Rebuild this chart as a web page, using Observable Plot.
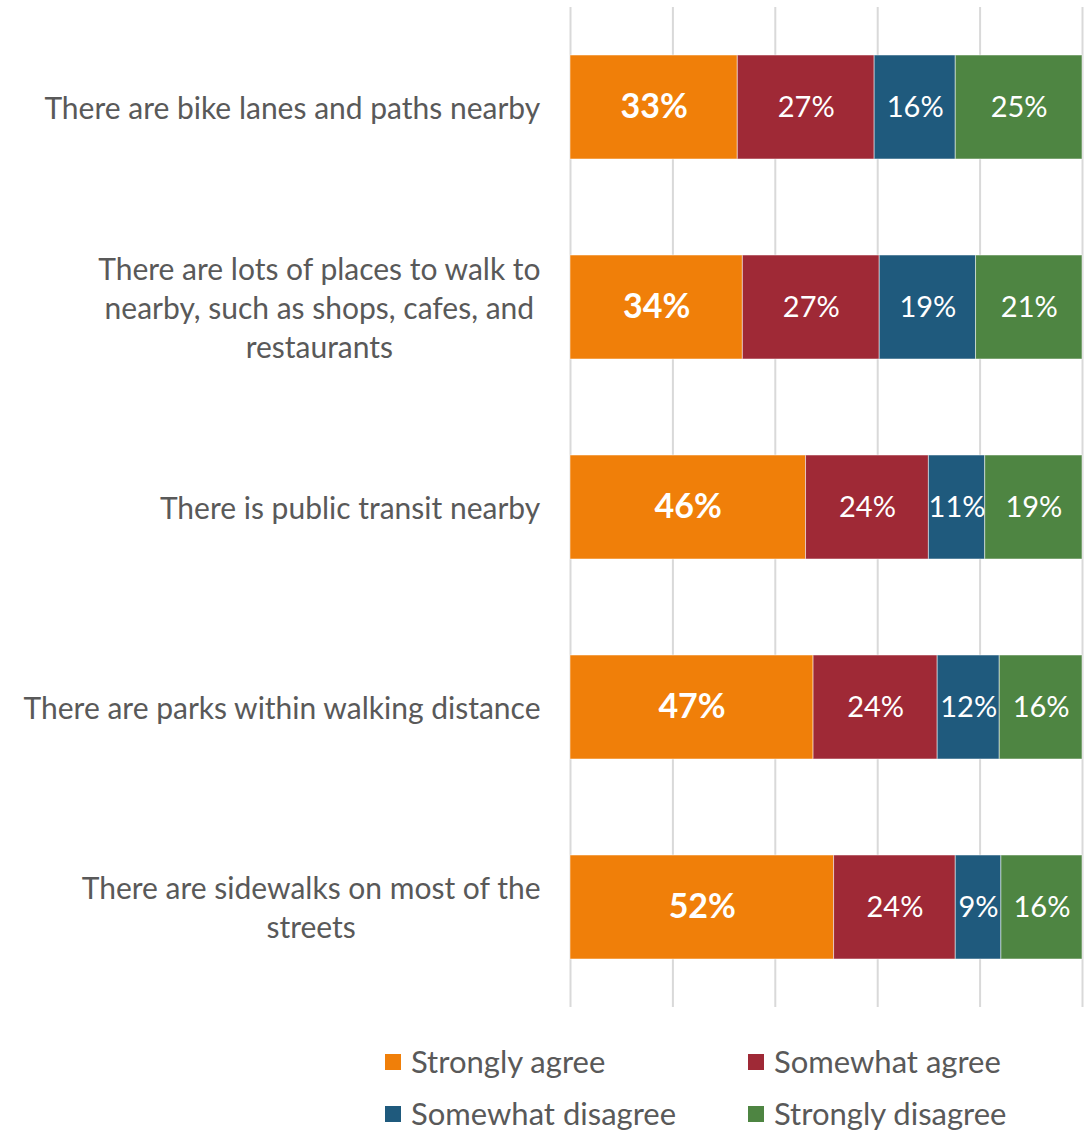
<!DOCTYPE html>
<html><head><meta charset="utf-8">
<script src="https://cdn.jsdelivr.net/npm/d3@7"></script>
<script src="https://cdn.jsdelivr.net/npm/@observablehq/plot@0.6"></script>
<style>
body{margin:0;background:#fff;font-family:Lato,"Noto Sans",sans-serif;}
#legend{position:relative;width:1090px;height:122px;}
.li{position:absolute;display:flex;align-items:center;font-size:31px;color:#595959;line-height:1;}
.sw{width:16px;height:16px;margin-right:10px;}
</style></head>
<body><div id="chart"></div><div id="legend"></div>
<script>
const categories = [
  "There are bike lanes and paths nearby",
  "There are lots of places to walk to\nnearby, such as shops, cafes, and\nrestaurants",
  "There is public transit nearby",
  "There are parks within walking distance",
  "There are sidewalks on most of the\nstreets"
];
const responses = ["Strongly agree","Somewhat agree","Somewhat disagree","Strongly disagree"];
const colors = ["#F07F09","#9F2936","#1F5A7D","#4E8542"];
const stronglyAgree    = [33,34,46,47,52];
const somewhatAgree    = [27,27,24,24,24];
const somewhatDisagree = [16,19,11,12,9];
const stronglyDisagree = [25,21,19,16,16];
const series = [stronglyAgree, somewhatAgree, somewhatDisagree, stronglyDisagree];
const ticks = [0,0.2,0.4,0.6,0.8,1];

const data = [];
categories.forEach((c,i)=>responses.forEach((r,j)=>data.push({cat:c,resp:r,value:series[j][i]})));

const stack = extra => Plot.stackX({offset:"normalize", order:responses, x:"value", y:"cat", z:"resp", ...extra});

const plot = Plot.plot({
  width:1090, height:1010,
  marginLeft:570, marginRight:8, marginTop:7, marginBottom:3,
  style:{fontFamily:"Lato, 'Noto Sans', sans-serif", background:"#fff"},
  x:{domain:[0,1], axis:null},
  y:{domain:categories, axis:null, paddingInner:0.48, paddingOuter:0.24},
  color:{domain:responses, range:colors},
  marks:[
    Plot.ruleX(ticks,{stroke:"#d9d9d9", strokeWidth:2}),
    Plot.barX(data, stack({fill:"resp", stroke:"#ffffff", strokeOpacity:0.5, strokeWidth:1})),
    Plot.text(categories,{x:0, y:d=>d, text:d=>d, textAnchor:"middle", fill:"#595959", fontSize:30, lineHeight:1.3, dy:-1}),
    Plot.text(data, stack({text:d=>d.resp==="Strongly agree"?d.value+"%":"", fill:"white", fontSize:34, fontWeight:"bold"})),
    Plot.text(data, stack({text:d=>d.resp==="Strongly agree"?"":d.value+"%", fill:"white", fontSize:29}))
  ]
});
document.getElementById("chart").appendChild(plot);
// right-align label blocks (centered lines) at 30px left of the plot
const groups = plot.querySelectorAll('g[aria-label="text"]');
groups[0].querySelectorAll("text").forEach(t=>{
  const w = t.getBBox().width;
  t.setAttribute("transform", (t.getAttribute("transform")||"") + ` translate(${-(30 + w/2)},0)`);
});

const legendPos = [[385,52],[748,52],[385,104],[748,104]];
const lg = document.getElementById("legend");
responses.forEach((r,i)=>{
  const d = document.createElement("div");
  d.className="li"; d.style.left=legendPos[i][0]+"px"; d.style.top=(legendPos[i][1]-16)+"px";
  d.innerHTML = `<span class="sw" style="background:${colors[i]}"></span><span>${r}</span>`;
  lg.appendChild(d);
});
</script></body></html>
